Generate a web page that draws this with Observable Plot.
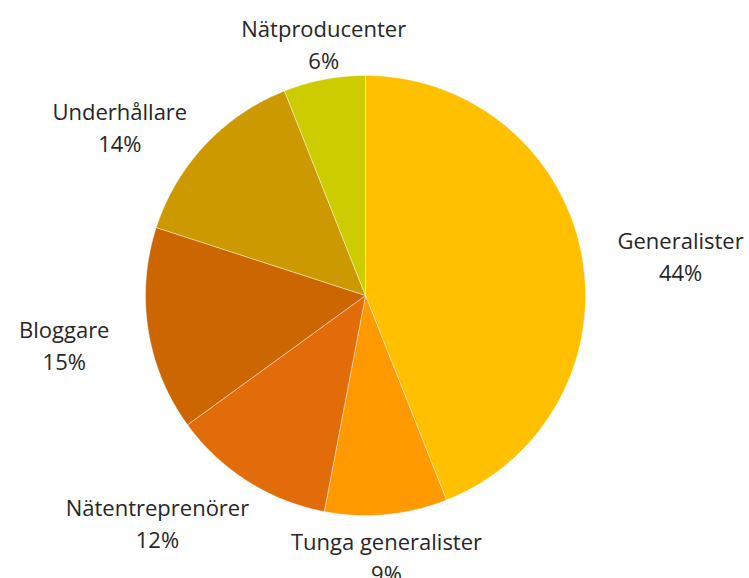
<!DOCTYPE html>
<html>
<head>
<meta charset="utf-8">
<script src="https://cdn.jsdelivr.net/npm/d3@7"></script>
<script src="https://cdn.jsdelivr.net/npm/@observablehq/plot@0.6"></script>
<style>
  html, body { margin: 0; padding: 0; background: #fff; }
  #chart svg { display: block; }
</style>
</head>
<body>
<div id="chart"></div>
<script>
// ---- data ----
const names = ["Generalister", "Tunga generalister", "Nätentreprenörer", "Bloggare", "Underhållare", "Nätproducenter"];
const shares = [44, 9, 12, 15, 14, 6];
const colors = ["#FFC000", "#FF9900", "#E36C0A", "#CC6600", "#CC9900", "#CCCC00"];

// ---- layout ----
const W = 749, H = 578;
const CX = 365, CY = 295, R = 220;          // pie centre and radius in px
const FONT = 22, LINEPX = 32;

// data units: radius = 1
const xDomain = [-CX / R, (W - CX) / R];
const yDomain = [-(H - CY) / R, CY / R];

const total = d3.sum(shares);
const slices = [];
const labels = [];
let acc = 0;
names.forEach((name, i) => {
  const a0 = acc / total * 2 * Math.PI;
  acc += shares[i];
  const a1 = acc / total * 2 * Math.PI;
  slices.push({name, x: 0, y: 0});
  const steps = Math.max(2, Math.ceil((a1 - a0) / (Math.PI / 360)));
  for (let k = 0; k <= steps; k++) {
    const a = a0 + (a1 - a0) * k / steps;
    slices.push({name, x: Math.sin(a), y: Math.cos(a)});
  }
  slices.push({name, x: 0, y: 0});
  // "outside end" label placement heuristic
  const am = (a0 + a1) / 2;
  const ux = Math.sin(am), uy = Math.cos(am);
  const w = name.length * 11.6;
  const s = Math.max(0, Math.min(1, (Math.abs(ux) - 0.2) / 0.3));
  const lx = ux * (R + 3 + 51 * s) + Math.sign(ux) * (w / 2) * 0.66 * s;
  const ly = uy * (R + 7 + LINEPX) - 2 - 6 * s;
  labels.push({name, x: lx / R, y: ly / R, text: `${name}\n${shares[i]}%`});
});

const chart = Plot.plot({
  width: W,
  height: H,
  margin: 0,
  style: {fontFamily: "'Open Sans', Lato, sans-serif", background: "#fff"},
  x: {domain: xDomain, axis: null},
  y: {domain: yDomain, axis: null},
  color: {domain: names, range: colors},
  marks: [
    Plot.line(slices, {x: "x", y: "y", z: "name", fill: "name", stroke: "#fff", strokeWidth: 0.6, strokeOpacity: 0.7}),
    Plot.text(labels, {x: "x", y: "y", text: "text", fontSize: FONT, lineHeight: LINEPX / FONT, fill: "#262626", textAnchor: "middle"})
  ]
});
document.getElementById("chart").appendChild(chart);
</script>
</body>
</html>
